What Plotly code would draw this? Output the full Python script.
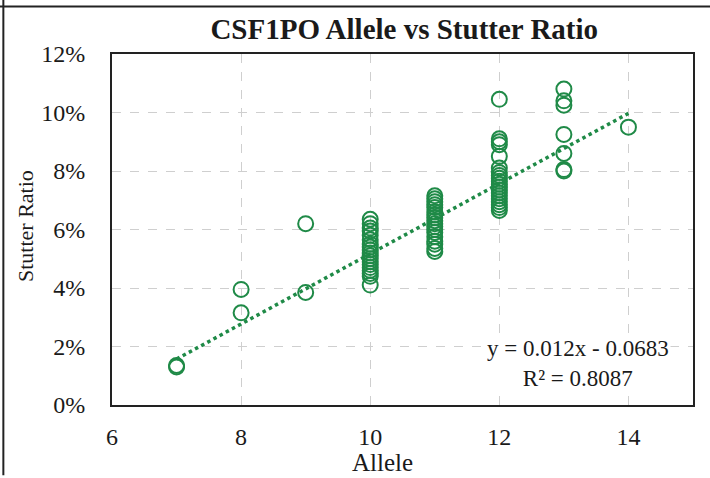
import plotly.graph_objects as go

# ---- data ----
allele_7 = [0.013, 0.0135]
allele_8 = [0.0395, 0.0315]
allele_9 = [0.062, 0.0385]
allele_10 = [0.0635, 0.062, 0.0605, 0.0595, 0.058, 0.0565, 0.055, 0.054, 0.053, 0.052,
             0.051, 0.050, 0.049, 0.048, 0.047, 0.046, 0.045, 0.044, 0.041]
allele_11 = [0.0715, 0.0705, 0.0695, 0.0685, 0.0675, 0.066, 0.065, 0.064, 0.063, 0.062,
             0.061, 0.060, 0.059, 0.0575, 0.056, 0.055, 0.0535, 0.0525]
allele_12 = [0.1045, 0.091, 0.090, 0.089, 0.085, 0.081, 0.0795, 0.0785, 0.0775, 0.0765,
             0.0755, 0.0745, 0.0735, 0.0725, 0.0715, 0.0705, 0.0695, 0.0685, 0.0675, 0.0665]
allele_13 = [0.108, 0.104, 0.1025, 0.0925, 0.086, 0.0805, 0.080]
allele_14 = [0.095]

groups = {7: allele_7, 8: allele_8, 9: allele_9, 10: allele_10, 11: allele_11,
          12: allele_12, 13: allele_13, 14: allele_14}

slope = 0.012
intercept = -0.0683
r_squared = 0.8087
trend_x = [7, 14]

x_ticks = [6, 8, 10, 12, 14]
y_ticks = [0, 0.02, 0.04, 0.06, 0.08, 0.10, 0.12]

xs, ys = [], []
for a, vals in groups.items():
    xs += [a] * len(vals)
    ys += vals

GREEN = "#1f8a47"
FONT = "Liberation Serif"
INK = "#1a1a1a"

fig = go.Figure()
fig.add_trace(go.Scatter(
    x=xs, y=ys, mode="markers",
    marker=dict(symbol="circle-open", size=15, color=GREEN, line=dict(width=2, color=GREEN)),
    showlegend=False))
fig.add_trace(go.Scatter(
    x=trend_x, y=[slope * v + intercept for v in trend_x], mode="lines",
    line=dict(color=GREEN, width=3.5, dash="dot"), showlegend=False))

fig.update_layout(
    width=710, height=478,
    margin=dict(l=112, r=17, t=54, b=73),
    paper_bgcolor="white", plot_bgcolor="white",
    font=dict(family=FONT, color=INK, size=24),
    title=dict(text="<b>CSF1PO Allele vs Stutter Ratio</b>", x=0.503, xref="paper",
               y=0.94, yanchor="middle", font=dict(family=FONT, size=29, color=INK)),
    xaxis=dict(range=[6, 15], tickvals=x_ticks, ticktext=[str(v) for v in x_ticks],
               showgrid=True, gridcolor="#cfcfcf", griddash="dash", gridwidth=1,
               showline=True, linecolor="#222", linewidth=2, mirror=True,
               zeroline=False, ticks="", ticklabelstandoff=9),
    yaxis=dict(range=[0, 0.12], tickvals=y_ticks, tickformat=".0%",
               showgrid=True, gridcolor="#cfcfcf", griddash="dash", gridwidth=1,
               showline=True, linecolor="#222", linewidth=2, mirror=True,
               zeroline=False, ticks="", ticklabelstandoff=20),
    annotations=[
        dict(text=f"y = {slope}x - {abs(intercept)}<br>R² = {r_squared}",
             xref="paper", yref="paper", x=0.962, y=0.035, xanchor="right", yanchor="bottom",
             align="center", showarrow=False, font=dict(family=FONT, size=23, color=INK),
             bgcolor="white"),
        dict(text="Allele", xref="paper", yref="paper", x=0.466, y=-0.165,
             xanchor="center", yanchor="middle", showarrow=False,
             font=dict(family=FONT, size=25, color=INK)),
        dict(text="Stutter Ratio", xref="paper", yref="paper", x=-0.148, y=0.51,
             xanchor="center", yanchor="middle", textangle=-90, showarrow=False,
             font=dict(family=FONT, size=22, color=INK)),
    ],
    shapes=[
        dict(type="line", xref="paper", yref="paper", x0=-0.187, x1=-0.187, y0=-0.2, y1=1.2,
             line=dict(color="#222", width=2)),
        dict(type="line", xref="paper", yref="paper", x0=-0.25, x1=1.1, y0=1.135, y1=1.135,
             line=dict(color="#222", width=2)),
    ],
)

fig.write_html("out.html")
